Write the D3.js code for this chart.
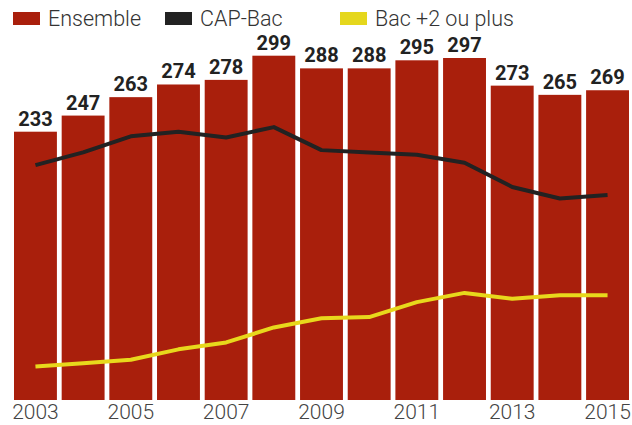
<!DOCTYPE html>
<html>
<head>
<meta charset="utf-8">
<script src="https://cdn.jsdelivr.net/npm/d3@7"></script>
<style>
  body { margin: 0; background: #fff; }
  svg { display: block; font-family: Roboto, "Liberation Sans", sans-serif; }
</style>
</head>
<body>
<script>
const years = [2003, 2004, 2005, 2006, 2007, 2008, 2009, 2010, 2011, 2012, 2013, 2014, 2015];
const ensemble = [233, 247, 263, 274, 278, 299, 288, 288, 295, 297, 273, 265, 269];
const capBac = [204, 215, 229, 233, 228, 237, 217, 215, 213, 206, 185, 175, 178];
const bacPlus2 = [29, 32, 35, 44, 50, 63, 71, 72, 85, 93, 88, 91, 91];
const tickYears = [2003, 2005, 2007, 2009, 2011, 2013, 2015];

const legendItems = [
    { label: "Ensemble", color: "#a91f0c", x: 13 },
    { label: "CAP-Bac", color: "#222222", x: 165 },
    { label: "Bac +2 ou plus", color: "#e5d71d", x: 340 }
];

function createChart() {
    const width = 632;
    const height = 425;

    const svg = d3.select("body")
        .append("svg")
        .attr("width", width)
        .attr("height", height);

    const x = d3.scaleBand()
        .domain(years)
        .range([14, 629])
        .paddingInner(0.1)
        .paddingOuter(0);

    const y = d3.scaleLinear()
        .domain([0, 299])
        .range([400, 55.7]);

    // bars
    svg.append("g")
        .selectAll("rect")
        .data(years)
        .enter().append("rect")
        .attr("x", d => x(d))
        .attr("y", (d, i) => y(ensemble[i]))
        .attr("width", x.bandwidth())
        .attr("height", (d, i) => y(0) - y(ensemble[i]))
        .attr("fill", "#a91f0c");

    // value labels
    svg.append("g")
        .selectAll("text")
        .data(years)
        .enter().append("text")
        .attr("x", d => x(d) + x.bandwidth() / 2)
        .attr("y", (d, i) => y(ensemble[i]) - 6)
        .attr("text-anchor", "middle")
        .attr("font-size", 20)
        .attr("font-weight", 700)
        .attr("fill", "#222")
        .text((d, i) => ensemble[i]);

    const line = d3.line()
        .x((d, i) => x(years[i]) + x.bandwidth() / 2)
        .y(d => y(d));

    svg.append("path")
        .datum(capBac)
        .attr("d", line)
        .attr("fill", "none")
        .attr("stroke", "#222")
        .attr("stroke-width", 4)
        .attr("stroke-linejoin", "round");

    svg.append("path")
        .datum(bacPlus2)
        .attr("d", line)
        .attr("fill", "none")
        .attr("stroke", "#e8d81c")
        .attr("stroke-width", 4)
        .attr("stroke-linejoin", "round");

    // x axis
    const xAxis = d3.axisBottom(x)
        .tickValues(tickYears)
        .tickSize(0)
        .tickPadding(4);

    const gx = svg.append("g")
        .attr("transform", "translate(0,400)")
        .call(xAxis);
    gx.select(".domain").remove();
    gx.selectAll("text")
        .attr("font-family", "Roboto, sans-serif")
        .attr("font-size", 21)
        .attr("font-weight", 300)
        .attr("fill", "#444");

    // legend
    const legend = svg.append("g")
        .selectAll("g")
        .data(legendItems)
        .enter().append("g")
        .attr("transform", d => `translate(${d.x},0)`);

    legend.append("rect")
        .attr("y", 12)
        .attr("width", 27)
        .attr("height", 13)
        .attr("fill", d => d.color);

    legend.append("text")
        .attr("x", 35)
        .attr("y", 26)
        .attr("font-size", 21.5)
        .attr("font-weight", 300)
        .attr("fill", "#333")
        .text(d => d.label);
}

createChart();
</script>
</body>
</html>
